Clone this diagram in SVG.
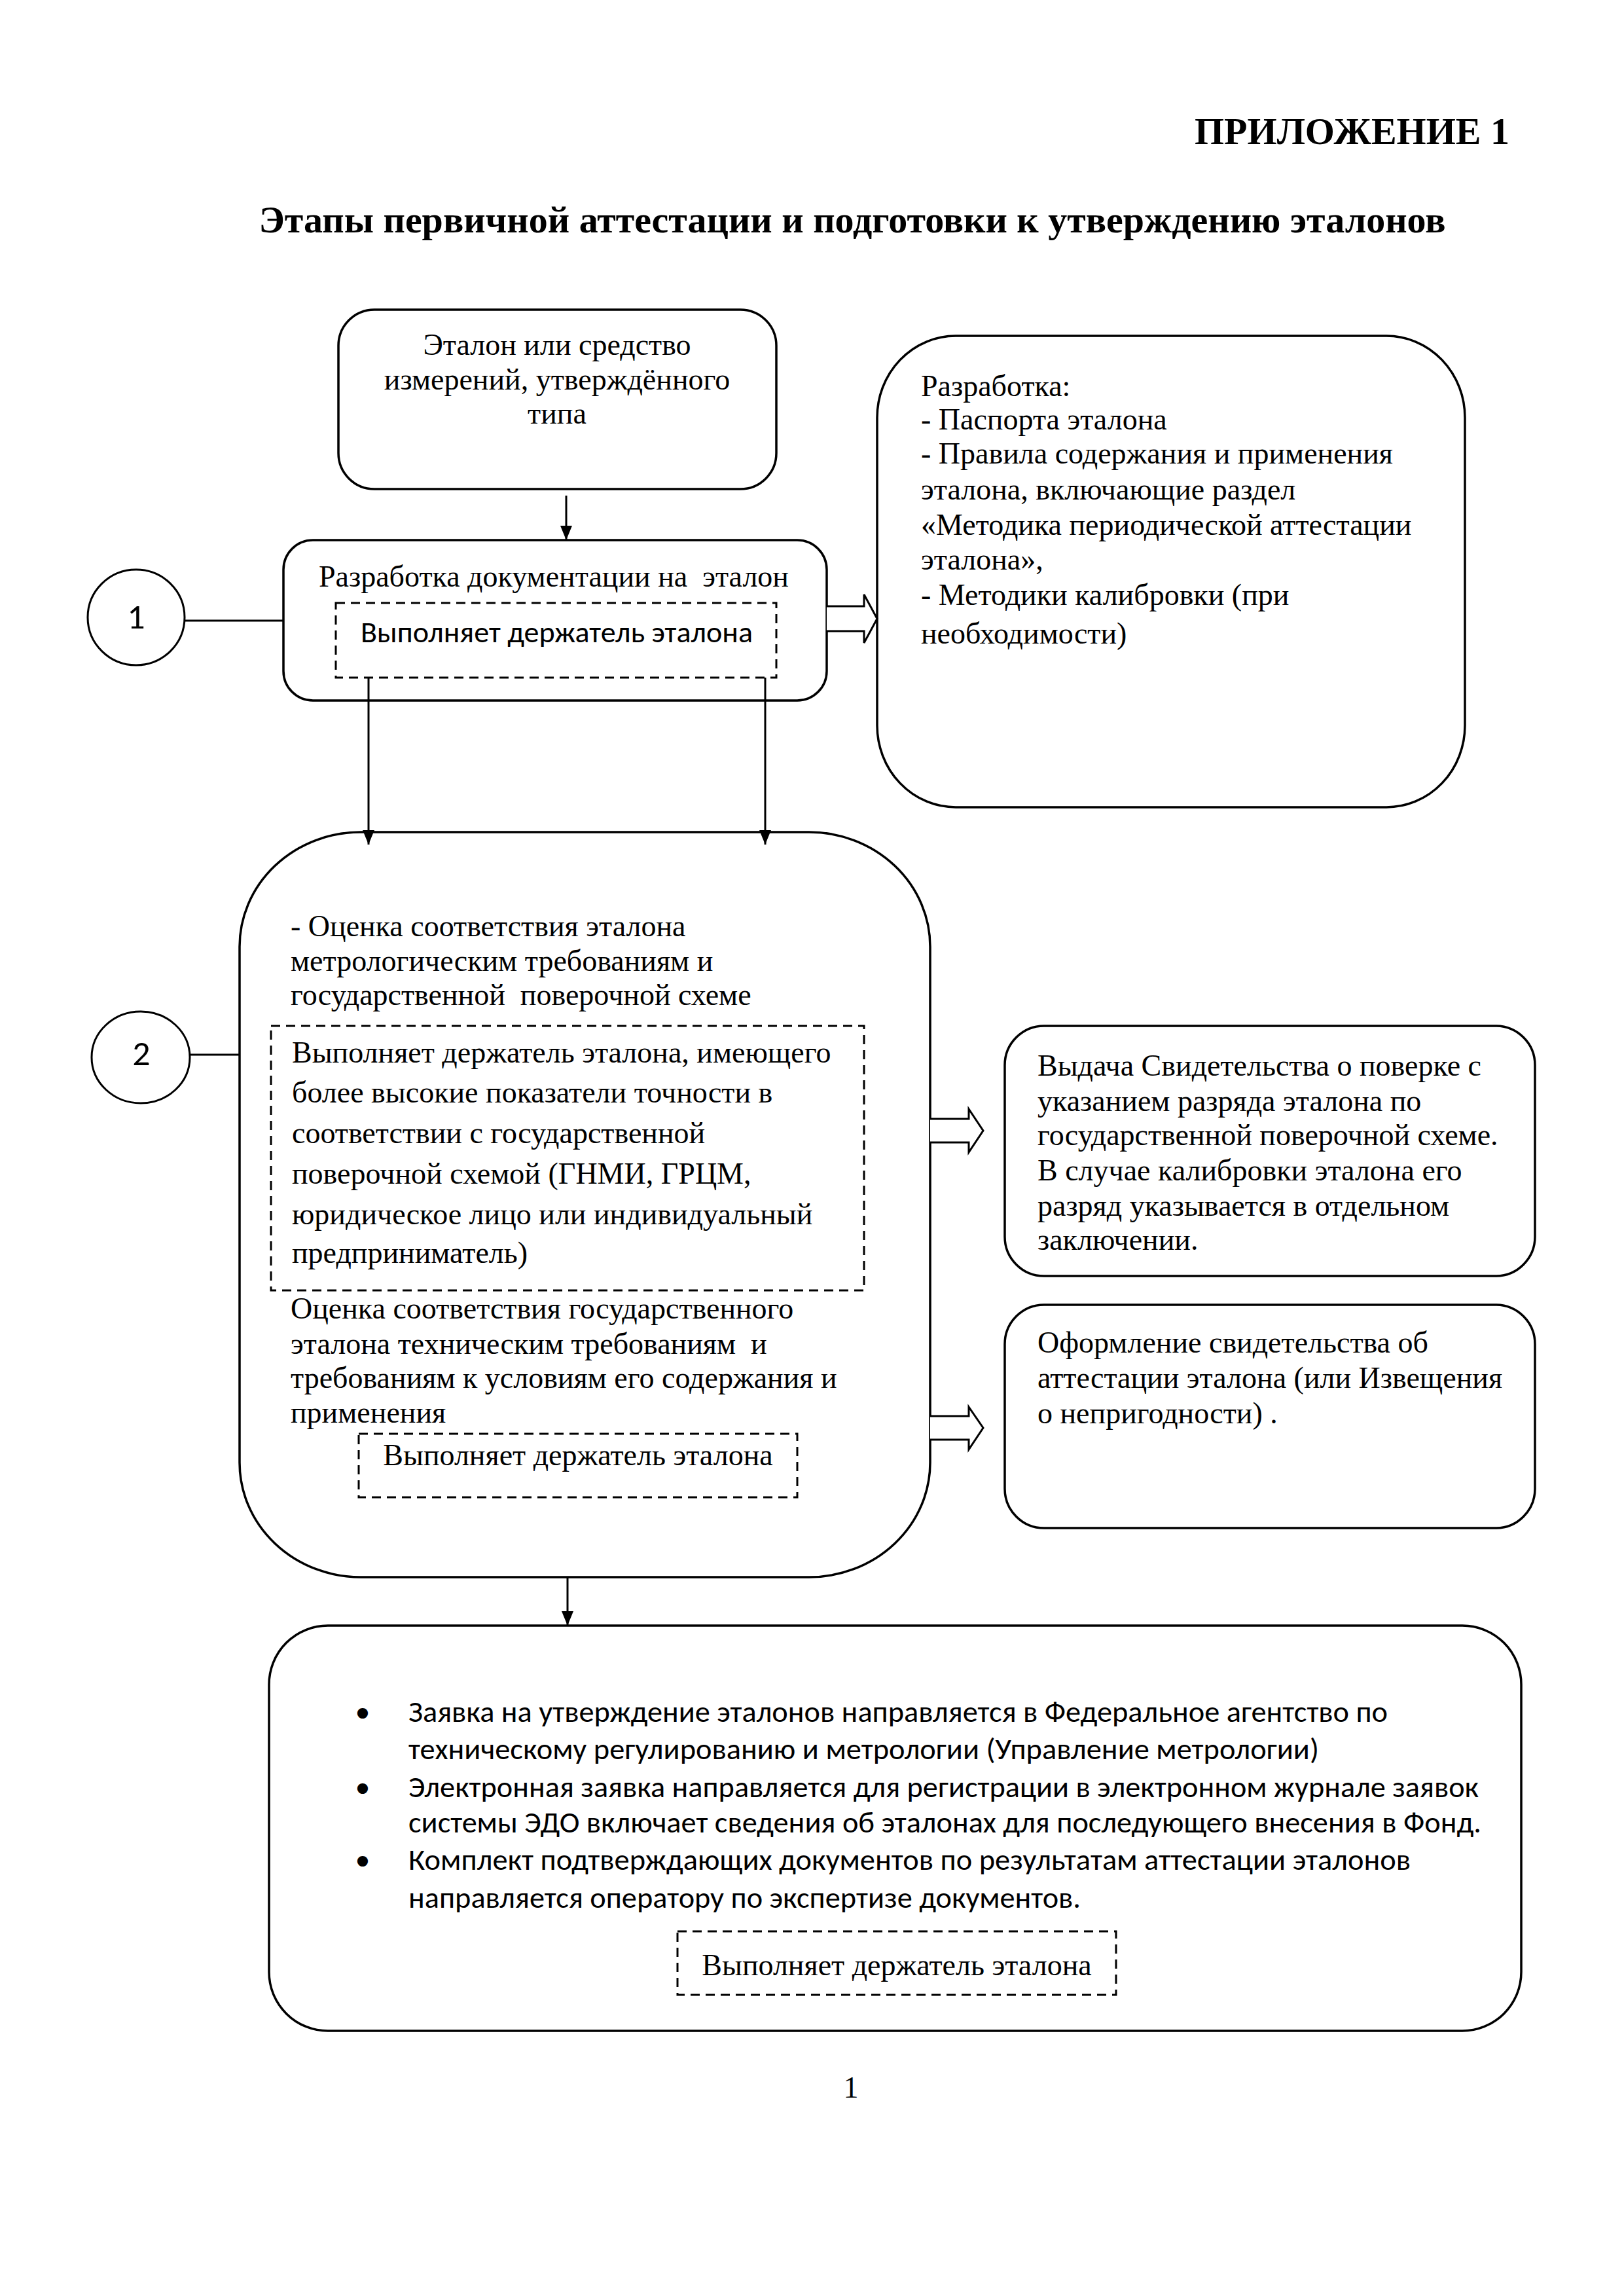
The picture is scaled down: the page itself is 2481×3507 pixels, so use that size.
<svg xmlns="http://www.w3.org/2000/svg" width="2481" height="3507" viewBox="0 0 2481 3507">
<style>
.bg{fill:#fff}
.box{fill:#fff;stroke:#000;stroke-width:3.5}
.dash{fill:none;stroke:#000;stroke-width:3;stroke-dasharray:14 9}
.ln{fill:none;stroke:#000;stroke-width:3}
.hol{fill:#fff;stroke:#000;stroke-width:3;stroke-linejoin:miter}
.s{font-family:"Liberation Serif","Times New Roman",serif;font-size:46px;fill:#000}
.b{font-family:"Liberation Serif","Times New Roman",serif;font-size:58px;font-weight:bold;fill:#000}
.c{font-family:Carlito,Lato,"Liberation Sans",sans-serif;font-size:46px;fill:#000}
.num{font-family:Carlito,Lato,"Liberation Sans",sans-serif;font-size:54px;fill:#000;text-anchor:middle}
.m{text-anchor:middle}
</style>
<defs>
<marker id="ah" markerUnits="userSpaceOnUse" markerWidth="22" markerHeight="18" viewBox="0 0 22 18" refX="22" refY="9" orient="auto">
<path d="M0,0 L22,9 L0,18 z" fill="#000"/>
</marker>
</defs>
<rect class="bg" x="0" y="0" width="2481" height="3507"/>

<g id="header">
<text class="b" x="2306" y="220" text-anchor="end">ПРИЛОЖЕНИЕ 1</text>
<text class="b m" x="1302" y="355">Этапы первичной аттестации и подготовки к утверждению эталонов</text>
</g>

<g id="node-etalon">
<rect class="box" x="517" y="473" width="669" height="274" rx="55" ry="55"/>
<text class="s m" x="851" y="542">Эталон или средство</text>
<text class="s m" x="851" y="595">измерений, утверждённого</text>
<text class="s m" x="851" y="647">типа</text>
</g>

<g id="node-docs">
<rect class="box" x="433" y="825" width="830" height="245" rx="45" ry="45"/>
<text class="s m" x="846" y="896" xml:space="preserve">Разработка документации на  эталон</text>
<rect class="dash" x="513" y="921" width="673" height="114"/>
<text class="c" x="551" y="981" textLength="599" lengthAdjust="spacingAndGlyphs">Выполняет держатель эталона</text>
</g>

<g id="node-circle1">
<ellipse class="ln" cx="208" cy="943" rx="74" ry="73"/>
<text class="num" x="208" y="960">1</text>
</g>

<g id="node-razrabotka">
<rect class="box" x="1340" y="513" width="898" height="720" rx="120" ry="125"/>
<text class="s" x="1407" y="605">Разработка:</text>
<text class="s" x="1407" y="656">- Паспорта эталона</text>
<text class="s" x="1407" y="708">- Правила содержания и применения</text>
<text class="s" x="1407" y="763">эталона, включающие раздел</text>
<text class="s" x="1407" y="817">«Методика периодической аттестации</text>
<text class="s" x="1407" y="870">эталона»,</text>
<text class="s" x="1407" y="924">- Методики калибровки (при</text>
<text class="s" x="1407" y="983">необходимости)</text>
</g>

<g id="node-ocenka">
<rect class="box" x="366" y="1271" width="1055" height="1138" rx="185" ry="175"/>
<text class="s" x="444" y="1430">- Оценка соответствия эталона</text>
<text class="s" x="444" y="1483">метрологическим требованиям и</text>
<text class="s" x="444" y="1535" xml:space="preserve">государственной  поверочной схеме</text>
<rect class="dash" x="414" y="1567" width="906" height="404"/>
<text class="s" x="446" y="1623">Выполняет держатель эталона, имеющего</text>
<text class="s" x="446" y="1684">более высокие показатели точности в</text>
<text class="s" x="446" y="1746">соответствии с государственной</text>
<text class="s" x="446" y="1808">поверочной схемой (ГНМИ, ГРЦМ,</text>
<text class="s" x="446" y="1870">юридическое лицо или индивидуальный</text>
<text class="s" x="446" y="1929">предприниматель)</text>
<text class="s" x="444" y="2014">Оценка соответствия государственного</text>
<text class="s" x="444" y="2068" xml:space="preserve">эталона техническим требованиям  и</text>
<text class="s" x="444" y="2120">требованиям к условиям его содержания и</text>
<text class="s" x="444" y="2173">применения</text>
<rect class="dash" x="548" y="2190" width="670" height="97"/>
<text class="s m" x="883" y="2238">Выполняет держатель эталона</text>
</g>

<g id="node-circle2">
<ellipse class="ln" cx="215" cy="1615" rx="75" ry="70"/>
<text class="num" x="216" y="1627">2</text>
</g>

<g id="node-vydacha">
<rect class="box" x="1535" y="1567" width="810" height="382" rx="60" ry="60"/>
<text class="s" x="1585" y="1643">Выдача Свидетельства о поверке с</text>
<text class="s" x="1585" y="1697">указанием разряда эталона по</text>
<text class="s" x="1585" y="1749">государственной поверочной схеме.</text>
<text class="s" x="1585" y="1803">В случае калибровки эталона его</text>
<text class="s" x="1585" y="1857">разряд указывается в отдельном</text>
<text class="s" x="1585" y="1909">заключении.</text>
</g>

<g id="node-oformlenie">
<rect class="box" x="1535" y="1993" width="810" height="341" rx="60" ry="60"/>
<text class="s" x="1585" y="2066">Оформление свидетельства об</text>
<text class="s" x="1585" y="2120">аттестации эталона (или Извещения</text>
<text class="s" x="1585" y="2174">о непригодности) .</text>
</g>

<g id="node-zayavka">
<rect class="box" x="411" y="2483" width="1913" height="619" rx="90" ry="90"/>
<text class="c m" x="554" y="2630">•</text>
<text class="c" x="624" y="2630" textLength="1496" lengthAdjust="spacingAndGlyphs">Заявка на утверждение эталонов направляется в Федеральное агентство по</text>
<text class="c" x="624" y="2687" textLength="1391" lengthAdjust="spacingAndGlyphs">техническому регулированию и метрологии (Управление метрологии)</text>
<text class="c m" x="554" y="2745">•</text>
<text class="c" x="624" y="2745" textLength="1635" lengthAdjust="spacingAndGlyphs">Электронная заявка направляется для регистрации в электронном журнале заявок</text>
<text class="c" x="624" y="2799" textLength="1639" lengthAdjust="spacingAndGlyphs">системы ЭДО включает сведения об эталонах для последующего внесения в Фонд.</text>
<text class="c m" x="554" y="2856">•</text>
<text class="c" x="624" y="2856" textLength="1531" lengthAdjust="spacingAndGlyphs">Комплект подтверждающих документов по результатам аттестации эталонов</text>
<text class="c" x="624" y="2914" textLength="1027" lengthAdjust="spacingAndGlyphs">направляется оператору по экспертизе документов.</text>
<rect class="dash" x="1035" y="2950" width="670" height="97"/>
<text class="s m" x="1370" y="3017">Выполняет держатель эталона</text>
</g>

<g id="page-number">
<text class="s m" x="1300" y="3204">1</text>
</g>

<g id="connectors">
<path class="ln" d="M865,757 V825" marker-end="url(#ah)"/>
<path class="ln" d="M563,1035 V1290" marker-end="url(#ah)"/>
<path class="ln" d="M1169,1035 V1290" marker-end="url(#ah)"/>
<path class="ln" d="M867,2409 V2483" marker-end="url(#ah)"/>
<path class="ln" d="M282,948 H433"/>
<path class="ln" d="M290,1611 H366"/>
<path class="hol" d="M1263,926 H1320 V908 L1340,945 L1320,982 V964 H1263"/>
<path class="hol" d="M1421,1709 H1480 V1694 L1502,1727 L1480,1760 V1745 H1421"/>
<path class="hol" d="M1421,2163 H1480 V2149 L1502,2181 L1480,2214 V2199 H1421"/>
</g>
</svg>
